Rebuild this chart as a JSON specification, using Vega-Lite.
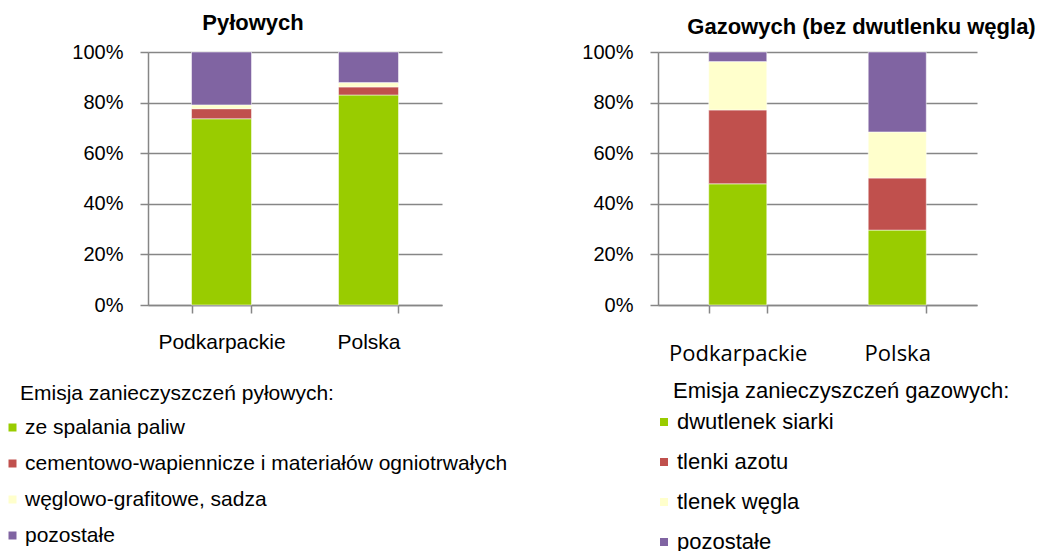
{
  "$schema": "https://vega.github.io/schema/vega-lite/v6.json",
  "padding": {"left": 20, "top": 12, "right": 0, "bottom": 0},
  "bounds": "flush",
  "spacing": 216,
  "config": {
    "font": "Liberation Sans",
    "view": {"stroke": null},
    "axis": {
      "domainColor": "#868686", "gridColor": "#868686", "tickColor": "#868686",
      "domainWidth": 1.5, "gridWidth": 1.5, "tickWidth": 1.5, "tickSize": 8,
      "labelColor": "#000000", "labelFontSize": 20, "labelFont": "Liberation Sans"
    },
    "legend": {
      "orient": "none", "direction": "vertical", "symbolType": "square", "symbolSize": 64,
      "symbolStrokeWidth": 0, "titleFontWeight": "normal",
      "labelFont": "Liberation Sans", "titleFont": "Liberation Sans", "labelColor": "#000000",
      "titleColor": "#000000", "labelLimit": 0, "titleLimit": 0
    },
    "title": {"fontSize": 22, "fontWeight": "bold", "color": "#000000", "font": "Liberation Sans"}
  },
  "resolve": {"scale": {"color": "independent", "x": "independent", "y": "independent"}, "legend": {"color": "independent"}},
  "hconcat": [
    {
      "width": 294, "height": 253,
      "title": {"text": "Pyłowych", "dx": -42, "offset": 7},
      "data": {"values": [
        {"region": "Podkarpackie", "category": "ze spalania paliw", "ord": 1, "value": 73.6},
        {"region": "Podkarpackie", "category": "cementowo-wapiennicze i materiałów ogniotrwałych", "ord": 2, "value": 4.0},
        {"region": "Podkarpackie", "category": "węglowo-grafitowe, sadza", "ord": 3, "value": 1.5},
        {"region": "Podkarpackie", "category": "pozostałe", "ord": 4, "value": 20.9},
        {"region": "Polska", "category": "ze spalania paliw", "ord": 1, "value": 83.0},
        {"region": "Polska", "category": "cementowo-wapiennicze i materiałów ogniotrwałych", "ord": 2, "value": 3.2},
        {"region": "Polska", "category": "węglowo-grafitowe, sadza", "ord": 3, "value": 1.7},
        {"region": "Polska", "category": "pozostałe", "ord": 4, "value": 12.1}
      ]},
      "mark": {"type": "bar", "stroke": "white", "strokeWidth": 0.5},
      "encoding": {
        "x": {"field": "region", "type": "nominal", "sort": ["Podkarpackie", "Polska"],
          "scale": {"paddingInner": 0.592, "paddingOuter": 0.296},
          "axis": {"title": null, "labelAngle": 0, "tickBand": "extent", "labelPadding": 18, "labelFontSize": 21, "grid": false}},
        "y": {"field": "value", "type": "quantitative", "stack": "normalize",
          "scale": {"domain": [0, 1]},
          "axis": {"title": null, "values": [0, 0.2, 0.4, 0.6, 0.8, 1], "format": ".0%", "grid": true, "labelPadding": 17}},
        "color": {"field": "category", "type": "nominal",
          "scale": {"domain": ["ze spalania paliw", "cementowo-wapiennicze i materiałów ogniotrwałych", "węglowo-grafitowe, sadza", "pozostałe"],
                    "range": ["#99CC00", "#C0504D", "#FFFFCC", "#8064A2"]},
          "legend": {"title": "Emisja zanieczyszczeń pyłowych:", "legendX": -128, "legendY": 331,
            "titleFontSize": 21, "labelFontSize": 21, "titlePadding": 13, "rowPadding": 14,
            "symbolOffset": -18, "labelOffset": 2}},
        "order": {"field": "ord", "type": "quantitative"}
      }
    },
    {
      "width": 319, "height": 253,
      "title": {"text": "Gazowych (bez dwutlenku węgla)", "dx": 44, "offset": 3},
      "data": {"values": [
        {"region": "Podkarpackie", "category": "dwutlenek siarki", "ord": 1, "value": 47.9},
        {"region": "Podkarpackie", "category": "tlenki azotu", "ord": 2, "value": 29.2},
        {"region": "Podkarpackie", "category": "tlenek węgla", "ord": 3, "value": 19.1},
        {"region": "Podkarpackie", "category": "pozostałe", "ord": 4, "value": 3.8},
        {"region": "Polska", "category": "dwutlenek siarki", "ord": 1, "value": 29.6},
        {"region": "Polska", "category": "tlenki azotu", "ord": 2, "value": 20.6},
        {"region": "Polska", "category": "tlenek węgla", "ord": 3, "value": 18.2},
        {"region": "Polska", "category": "pozostałe", "ord": 4, "value": 31.6}
      ]},
      "mark": {"type": "bar", "stroke": "white", "strokeWidth": 0.5},
      "encoding": {
        "x": {"field": "region", "type": "nominal", "sort": ["Podkarpackie", "Polska"],
          "scale": {"paddingInner": 0.636, "paddingOuter": 0.318},
          "axis": {"title": null, "labelAngle": 0, "tickBand": "extent", "labelPadding": 30, "labelFontSize": 22, "labelFont": "Open Sans", "grid": false}},
        "y": {"field": "value", "type": "quantitative", "stack": "normalize",
          "scale": {"domain": [0, 1]},
          "axis": {"title": null, "values": [0, 0.2, 0.4, 0.6, 0.8, 1], "format": ".0%", "grid": true, "labelPadding": 17}},
        "color": {"field": "category", "type": "nominal",
          "scale": {"domain": ["dwutlenek siarki", "tlenki azotu", "tlenek węgla", "pozostałe"],
                    "range": ["#99CC00", "#C0504D", "#FFFFCC", "#8064A2"]},
          "legend": {"title": "Emisja zanieczyszczeń gazowych:", "legendX": 15, "legendY": 329,
            "titleFontSize": 22, "labelFontSize": 22, "titlePadding": 8, "rowPadding": 18,
            "symbolOffset": -20, "labelOffset": 2}},
        "order": {"field": "ord", "type": "quantitative"}
      }
    }
  ]
}
